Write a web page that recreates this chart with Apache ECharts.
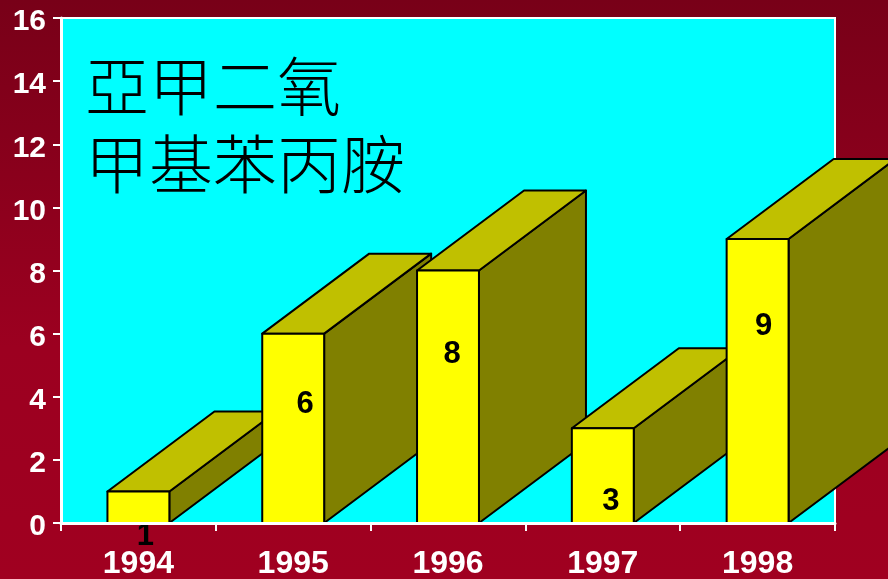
<!DOCTYPE html>
<html>
<head>
<meta charset="utf-8">
<style>html,body{margin:0;padding:0;width:888px;height:579px;overflow:hidden;background:#900020}#c{width:888px;height:579px}</style>
<script src="https://cdn.jsdelivr.net/npm/echarts@6/dist/echarts.min.js"></script>
</head>
<body>
<div id="c"></div>
<script>
const years = ['1994', '1995', '1996', '1997', '1998'];
const cases = [1, 6, 8, 3, 9];
const yTicks = [0, 2, 4, 6, 8, 10, 12, 14, 16];
const titleLines = ['亞甲二氧', '甲基苯丙胺'];

const DEPTH_X = 107, DEPTH_Y = -80, BAR_RATIO = 0.4;
const labelNudge = [[7, 29], [12, -24], [4, -42], [8, 26], [6, -55]];
const latin = '"Liberation Sans", Arial, sans-serif';

const chart = echarts.init(document.getElementById('c'), null, {renderer: 'canvas'});
chart.setOption({
  animation: false,
  backgroundColor: new echarts.graphic.LinearGradient(0, 0, 0, 1, [
    {offset: 0, color: '#780018'},
    {offset: 0.6, color: '#9c0020'},
    {offset: 1, color: '#a00020'}
  ]),
  title: {
    text: titleLines.join('\n'),
    left: 85, top: 47, padding: 0,
    textStyle: {fontFamily: '"Noto Sans CJK TC"', fontSize: 64, fontWeight: 300, color: '#000', lineHeight: 78}
  },
  grid: {left: 61, right: 53, top: 18, bottom: 56, outerBoundsMode: 'none', show: true, backgroundColor: '#00ffff', borderColor: '#fff', borderWidth: 2},
  xAxis: {
    type: 'category', data: years, z: 5,
    axisLine: {show: true, lineStyle: {color: '#fff', width: 3}},
    axisTick: {show: true, alignWithLabel: false, length: 8, lineStyle: {color: '#fff', width: 2}},
    axisLabel: {color: '#fff', fontFamily: latin, fontWeight: 'bold', fontSize: 32, margin: 25}
  },
  yAxis: {
    type: 'value', min: 0, max: 16, interval: 2, z: 5,
    splitLine: {show: false},
    axisLine: {show: true, lineStyle: {color: '#fff', width: 3}},
    axisTick: {show: true, length: 8, lineStyle: {color: '#fff', width: 2}},
    axisLabel: {margin: 15,
      formatter: v => yTicks.includes(v) ? '{n|' + v + '}' : '',
      rich: {n: {color: '#fff', fontFamily: latin, fontWeight: 'bold', fontSize: 30, padding: [8, 0, 0, 0]}}
    }
  },
  series: [{
    type: 'custom', z: 2, clip: false,
    data: cases.map((v, i) => [i, v]),
    encode: {x: 0, y: 1},
    renderItem(params, api) {
      const i = api.value(0), v = api.value(1);
      const top = api.coord([i, v]), base = api.coord([i, 0]);
      const w = api.size([1, 0])[0] * BAR_RATIO;
      const l = top[0] - w / 2, r = top[0] + w / 2, t = top[1], b = base[1];
      const line = {stroke: '#000', lineWidth: 2, lineJoin: 'round'};
      const poly = (pts, fill) => ({type: 'polygon', shape: {points: pts}, style: Object.assign({fill}, line)});
      const n = labelNudge[i];
      return {type: 'group', children: [
        poly([[r, t], [r + DEPTH_X, t + DEPTH_Y], [r + DEPTH_X, b + DEPTH_Y], [r, b]], '#808000'),
        poly([[l, t], [l + DEPTH_X, t + DEPTH_Y], [r + DEPTH_X, t + DEPTH_Y], [r, t]], '#c0c000'),
        poly([[l, t], [r, t], [r, b], [l, b]], '#ffff00'),
        {type: 'text', z2: 10, style: {
          text: String(v), x: top[0] + n[0], y: (t + b) / 2 + n[1],
          align: 'center', verticalAlign: 'middle',
          fill: '#000', font: 'bold 31px ' + latin
        }}
      ]};
    }
  }]
});
</script>
</body>
</html>
